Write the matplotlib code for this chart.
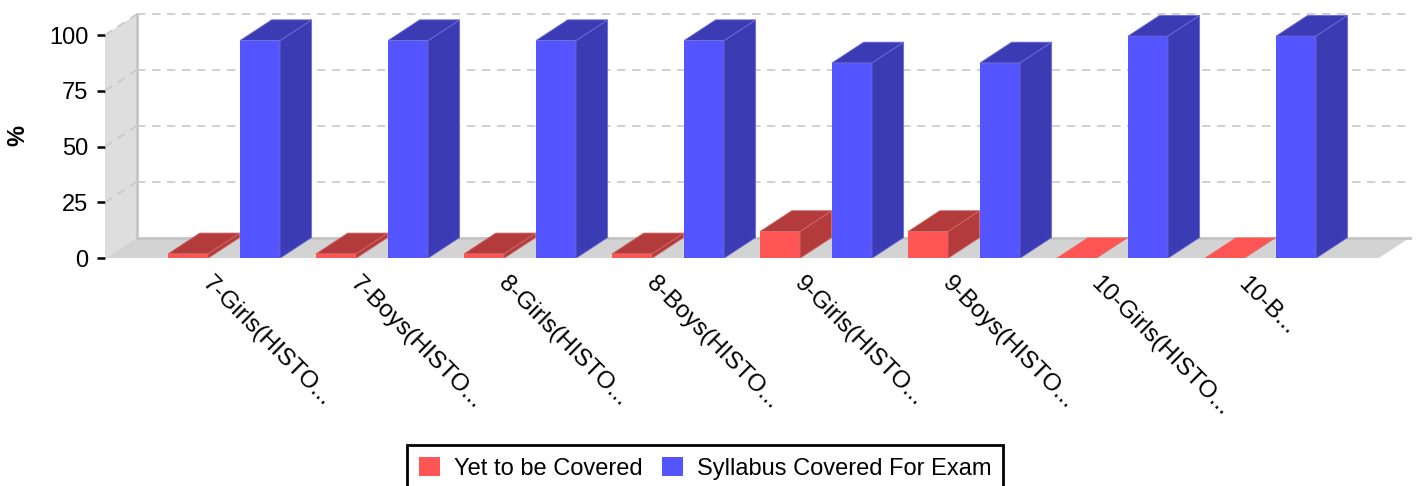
import matplotlib
matplotlib.use("Agg")
import matplotlib.pyplot as plt
from matplotlib.patches import Polygon, Rectangle, Patch

plt.rcParams['font.family'] = ['Liberation Sans', 'DejaVu Sans']

# data
categorias = ["7-Girls(HISTO...", "7-Boys(HISTO...", "8-Girls(HISTO...", "8-Boys(HISTO...",
              "9-Girls(HISTO...", "9-Boys(HISTO...", "10-Girls(HISTO...", "10-B..."]
yet_to_cover = [2, 2, 2, 2, 12, 12, 0, 0]
covered = [97.5, 97.5, 97.5, 97.5, 87.5, 87.5, 99.5, 99.5]
y_ticks = [0, 25, 50, 75, 100]

# colores (frente, lado/arriba, borde claro)
rojo = ("#FF5555", "#B33B3B", "#D06868")
azul = ("#5555FF", "#3B3BB3", "#6C6CD8")

# profundidad del efecto 3D
dx = 0.214
dy = 9.3
ancho = 0.27
x0, x1 = -0.804, 7.80

fig = plt.figure(figsize=(14.22, 4.86), dpi=100)
ax = fig.add_axes([105 / 1422, 1 - 258.3 / 486, 1310.4 / 1422, 245.6 / 486])
ax.set_xlim(x0, 8.05)
ax.set_ylim(0, 110)
for s in ax.spines.values():
    s.set_visible(False)

# pared izquierda y piso
ax.add_patch(Polygon([(x0, 0), (x0 + dx, dy), (x0 + dx, 100 + dy), (x0, 100)],
                     closed=True, facecolor="#DEDEDE", edgecolor="none", zorder=1))
ax.add_patch(Polygon([(x0, 0), (x1, 0), (x1 + dx, dy), (x0 + dx, dy)],
                     closed=True, facecolor="#D3D3D3", edgecolor="none", zorder=1))
ax.plot([x0 + dx, x0 + dx], [dy, 100 + dy], color="#C4C4C4", lw=2, zorder=2)
ax.plot([x0 + dx, x1 + dx], [dy, dy], color="#C4C4C4", lw=2, zorder=2)

# lineas de la grilla
for v in y_ticks[1:]:
    ax.plot([x0 + dx, x1 + dx], [v + dy, v + dy], color="#C8C8C8", lw=1.2,
            dashes=(5, 4), zorder=2)
    ax.plot([x0, x0 + dx], [v, v + dy], color="#C8C8C8", lw=1.2, dashes=(5, 4), zorder=2)


def barra(xl, h, col):
    ax.add_patch(Rectangle((xl, 0), ancho, h, facecolor=col[0], edgecolor="none", zorder=5))
    ax.add_patch(Polygon([(xl + ancho, 0), (xl + ancho + dx, dy), (xl + ancho + dx, h + dy),
                          (xl + ancho, h)], closed=True, facecolor=col[1],
                         edgecolor=col[2], lw=0.6, zorder=5))
    top = col[0] if h == 0 else col[1]
    ax.add_patch(Polygon([(xl, h), (xl + ancho, h), (xl + ancho + dx, h + dy), (xl + dx, h + dy)],
                         closed=True, facecolor=top, edgecolor=col[2] if h > 0 else "none",
                         lw=0.6, zorder=6))


for i in range(len(categorias)):
    barra(i - 0.378, yet_to_cover[i], rojo)
    barra(i + 0.108, covered[i], azul)
    ax.text(i - 0.07, -6.5, categorias[i], rotation=-45, rotation_mode="anchor",
            ha="left", va="top", fontsize=17.5, clip_on=False)

ax.set_xticks([])
ax.set_yticks(y_ticks)
ax.tick_params(axis="y", length=6, width=1.8, pad=6, labelsize=17)
ax.set_ylabel("%", fontsize=17, fontweight="bold", labelpad=14)

# leyenda
handles = [Patch(facecolor=rojo[0], label="Yet to be Covered"),
           Patch(facecolor=azul[0], label="Syllabus Covered For Exam")]
leg = fig.legend(handles=handles, loc="upper center", bbox_to_anchor=(705 / 1422, 1 - 445 / 486),
                 borderaxespad=0, ncol=2, fontsize=17, frameon=True, fancybox=False,
                 framealpha=1, handlelength=0.9, handleheight=0.9, handletextpad=0.6,
                 columnspacing=0.8, borderpad=0.5)
leg.get_frame().set_edgecolor("black")
leg.get_frame().set_linewidth(2)

fig.savefig("out.png", dpi=100)
